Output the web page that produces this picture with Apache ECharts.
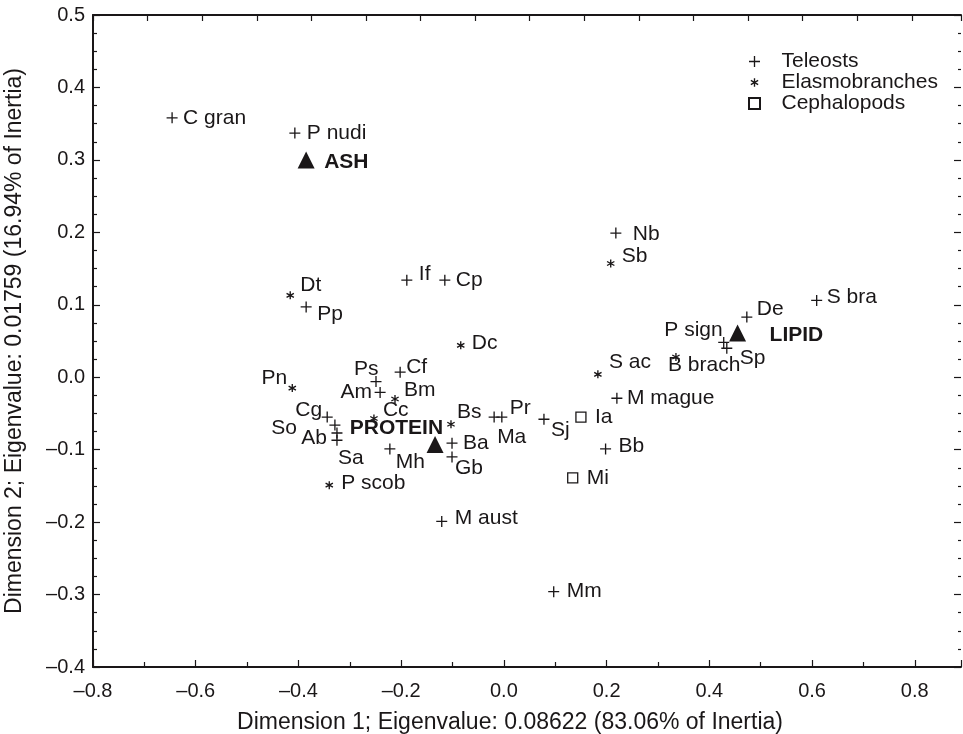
<!DOCTYPE html>
<html>
<head>
<meta charset="utf-8">
<script src="https://cdn.jsdelivr.net/npm/echarts@6/dist/echarts.min.js"></script>
<style>
  html, body { margin: 0; padding: 0; background: #fff; }
  #chart { width: 963px; height: 734px; }
</style>
</head>
<body>
<div id="chart"></div>
<script>
// teleosts (+)
var teleostNames = ['C gran','P nudi','Pp','If','Cp','Nb','S bra','De','P sign','Sp','M mague','Bb','Mm','M aust','Sj','Pr','Ma','Ba','Gb','Mh','Cf','Ps','Am','Cg','So','Ab','Sa'];
var teleostX = [-0.646,-0.407,-0.385,-0.189,-0.115,0.218,0.609,0.473,0.428,0.434,0.220,0.198,0.097,-0.121,0.078,-0.004,-0.019,-0.101,-0.101,-0.222,-0.202,-0.249,-0.241,-0.344,-0.329,-0.325,-0.325];
var teleostY = [0.358,0.337,0.097,0.134,0.134,0.199,0.106,0.083,0.048,0.040,-0.029,-0.099,-0.296,-0.199,-0.058,-0.055,-0.055,-0.091,-0.110,-0.099,0.007,-0.006,-0.021,-0.055,-0.066,-0.077,-0.087];

// elasmobranches (*)
var elasmoNames = ['Dt','Dc','Sb','S ac','B brach','Pn','Bm','Cc','Bs','P scob'];
var elasmoX = [-0.416,-0.084,0.208,0.183,0.335,-0.412,-0.212,-0.253,-0.103,-0.340];
var elasmoY = [0.113,0.044,0.157,0.004,0.028,-0.015,-0.030,-0.057,-0.065,-0.149];

// cephalopods (square)
var cephaloNames = ['Ia','Mi'];
var cephaloX = [0.150,0.134];
var cephaloY = [-0.055,-0.139];

// nutrients (triangles)
var nutrientNames = ['ASH','PROTEIN','LIPID'];
var nutrientX = [-0.385,-0.134,0.455];
var nutrientY = [0.300,-0.093,0.061];

// axis ticks
var xTicks = [-0.8,-0.6,-0.4,-0.2,0.0,0.2,0.4,0.6,0.8];
var yTicks = [-0.4,-0.3,-0.2,-0.1,0.0,0.1,0.2,0.3,0.4,0.5];

// where each label sits relative to its marker (dx, dy, align)
var labelAt = {
    'C gran':[11,0], 'P nudi':[12,0], 'Pp':[11,7], 'If':[12,-6], 'Cp':[11,0],
    'Nb':[17,1], 'S bra':[10,-3], 'De':[10,-8], 'P sign':[-1,-12,'right'], 'Sp':[13,10],
    'M mague':[10,0], 'Bb':[13,-3], 'Mm':[13,0], 'M aust':[13,-3], 'Sj':[7,11],
    'Pr':[8,-9], 'Ma':[3,20], 'Ba':[11,0], 'Gb':[3,11], 'Mh':[6,13],
    'Cf':[6,-5], 'Ps':[-22,-12], 'Am':[-8,0,'right'], 'Cg':[-5,-7,'right'], 'So':[-38,3,'right'],
    'Ab':[-10,5,'right'], 'Sa':[1,18],
    'Dt':[10,-10], 'Dc':[11,-2], 'Sb':[11,-7], 'S ac':[11,-12], 'B brach':[-8,8],
    'Pn':[-5,-10,'right'], 'Bm':[9,-9], 'Cc':[9,-8], 'Bs':[6,-12], 'P scob':[12,-2],
    'Ia':[14,0], 'Mi':[14,0],
    'ASH':[18,2], 'PROTEIN':[8,-16,'right'], 'LIPID':[32,2]
};

var ink = '#1a1718';
var font = 'Liberation Sans, Arial, Helvetica, sans-serif';

var plusPath = 'path://M4.4,0h1.2v4.4h4.4v1.2h-4.4v4.4h-1.2v-4.4h-4.4v-1.2h4.4z';
var starPath = 'path://M4.2,0L5.8,0L5.8,10L4.2,10Z M8.93,1.81L9.73,3.19L1.07,8.19L0.27,6.81Z M0.27,3.19L1.07,1.81L9.73,6.81L8.93,8.19Z';
// same asterisk with invisible corners so the legend draws it smaller
var starLegend = 'path://M-1.5,-1.5h0.01v0.01h-0.01z M11.5,11.5h0.01v0.01h-0.01z M4.2,0L5.8,0L5.8,10L4.2,10Z M8.93,1.81L9.73,3.19L1.07,8.19L0.27,6.81Z M0.27,3.19L1.07,1.81L9.73,6.81L8.93,8.19Z';
var squarePath = 'path://M0,0h10v10h-10z';

function pts(names, xs, ys) {
    return names.map(function (n, i) {
        var p = labelAt[n] || [10, 0];
        return {
            name: n,
            value: [xs[i], ys[i]],
            label: { offset: [p[0], p[1]], align: p[2] || 'left' }
        };
    });
}

function fmt(v) {
    return (v < -1e-9 ? '\u2013' : '') + Math.abs(v).toFixed(1);
}

var labelBase = {
    show: true,
    position: 'inside',
    formatter: '{b}',
    color: ink,
    fontSize: 21,
    fontFamily: font,
    verticalAlign: 'middle',
    textBorderWidth: 0
};

var myChart = echarts.init(document.getElementById('chart'), null, { renderer: 'canvas' });

myChart.setOption({
    animation: false,
    backgroundColor: '#fff',
    grid: { left: 93, right: 2, top: 15, bottom: 67, containLabel: false, outerBoundsMode: 'none' },
    legend: {
        orient: 'vertical',
        left: 743,
        top: 46,
        itemWidth: 44,
        itemHeight: 11,
        itemGap: 0,
        symbolKeepAspect: true,
        textStyle: { fontSize: 21, fontFamily: font, color: ink, lineHeight: 21 },
        data: [
            { name: 'Teleosts', icon: plusPath },
            { name: 'Elasmobranches', icon: starLegend },
            { name: 'Cephalopods', icon: squarePath }
        ]
    },
    xAxis: [
        {
            type: 'value',
            position: 'bottom',
            min: -0.8,
            max: 0.89,
            interval: 0.2,
            name: 'Dimension 1; Eigenvalue: 0.08622 (83.06% of Inertia)',
            nameLocation: 'middle',
            nameGap: 44,
            nameTextStyle: { fontSize: 23, fontFamily: font, color: ink, padding: [0, 34, 0, 0] },
            axisLine: { show: true, onZero: false, lineStyle: { color: ink, width: 2 } },
            axisTick: { show: true, inside: true, length: 7, lineStyle: { color: ink, width: 1.2 } },
            minorTick: { show: true, splitNumber: 2, length: 5, lineStyle: { color: ink, width: 1.2 } },
            axisLabel: {
                margin: 14, fontSize: 20, fontFamily: font, color: ink, showMaxLabel: false,
                formatter: function (v) { return xTicks.some(function (t) { return Math.abs(t - v) < 1e-6; }) ? fmt(v) : ''; }
            },
            splitLine: { show: false }
        },
        {
            type: 'value',
            position: 'top',
            min: 0,
            max: 1.59,
            interval: 0.1,
            axisLine: { show: true, onZero: false, lineStyle: { color: ink, width: 2 } },
            axisTick: { show: true, inside: true, length: 6, lineStyle: { color: ink, width: 1.2 } },
            axisLabel: { show: false },
            splitLine: { show: false }
        }
    ],
    yAxis: [
        {
            type: 'value',
            position: 'left',
            min: -0.4,
            max: 0.5,
            interval: 0.1,
            name: 'Dimension 2; Eigenvalue: 0.01759 (16.94% of Inertia)',
            nameLocation: 'middle',
            nameGap: 67,
            nameTextStyle: { fontSize: 23, fontFamily: font, color: ink },
            axisLine: { show: true, onZero: false, lineStyle: { color: ink, width: 2 } },
            axisTick: { show: true, inside: true, length: 7, lineStyle: { color: ink, width: 1.2 } },
            minorTick: { show: true, splitNumber: 4, length: 4, lineStyle: { color: ink, width: 1.2 } },
            axisLabel: {
                margin: 8, fontSize: 20, fontFamily: font, color: ink,
                formatter: function (v) { return yTicks.some(function (t) { return Math.abs(t - v) < 1e-6; }) ? fmt(v) : ''; }
            },
            splitLine: { show: false }
        },
        {
            type: 'value',
            position: 'right',
            min: -0.4,
            max: 0.5,
            interval: 0.1,
            axisLine: { show: false, onZero: false },
            axisTick: { show: true, inside: true, length: 7, lineStyle: { color: ink, width: 1.2 } },
            minorTick: { show: true, splitNumber: 4, length: 3, lineStyle: { color: ink, width: 1.2 } },
            axisLabel: { show: false },
            splitLine: { show: false }
        }
    ],
    series: [
        {
            name: 'Teleosts',
            type: 'scatter',
            symbol: plusPath,
            symbolSize: 11,
            itemStyle: { color: ink, opacity: 1 },
            label: labelBase,
            data: pts(teleostNames, teleostX, teleostY)
        },
        {
            name: 'Elasmobranches',
            type: 'scatter',
            symbol: starPath,
            symbolSize: 8,
            itemStyle: { color: ink, opacity: 1 },
            label: labelBase,
            data: pts(elasmoNames, elasmoX, elasmoY)
        },
        {
            name: 'Cephalopods',
            type: 'scatter',
            symbol: squarePath,
            symbolSize: 10,
            itemStyle: { color: '#fff', borderColor: ink, borderWidth: 1.3, opacity: 1 },
            label: labelBase,
            data: pts(cephaloNames, cephaloX, cephaloY)
        },
        {
            name: 'Nutrients',
            type: 'scatter',
            symbol: 'triangle',
            symbolSize: 17,
            itemStyle: { color: ink, opacity: 1 },
            label: Object.assign({}, labelBase, { fontWeight: 'bold' }),
            data: pts(nutrientNames, nutrientX, nutrientY)
        }
    ]
});
</script>
</body>
</html>
